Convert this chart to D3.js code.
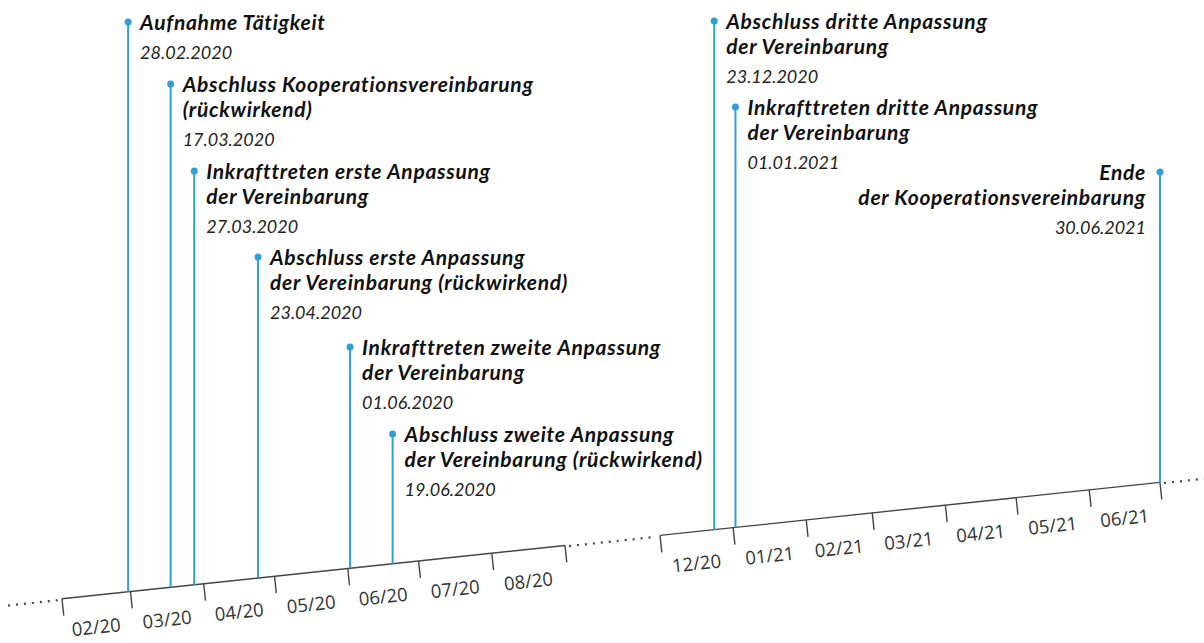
<!DOCTYPE html>
<html>
<head>
<meta charset="utf-8">
<script src="https://cdn.jsdelivr.net/npm/d3@7"></script>
<style>
  html, body { margin: 0; padding: 0; background: #fff; }
  svg { display: block; }
</style>
</head>
<body>
<svg id="chart" width="1204" height="643"></svg>
<script>
// events on the timeline
const eventDates = ["2020-02-28", "2020-03-17", "2020-03-27", "2020-04-23", "2020-06-01",
                    "2020-06-19", "2020-12-23", "2021-01-01", "2021-06-30"];
const eventLabels = ["28.02.2020", "17.03.2020", "27.03.2020", "23.04.2020", "01.06.2020",
                     "19.06.2020", "23.12.2020", "01.01.2021", "30.06.2021"];
const eventTitles = [
  ["Aufnahme Tätigkeit"],
  ["Abschluss Kooperationsvereinbarung", "(rückwirkend)"],
  ["Inkrafttreten erste Anpassung", "der Vereinbarung"],
  ["Abschluss erste Anpassung", "der Vereinbarung (rückwirkend)"],
  ["Inkrafttreten zweite Anpassung", "der Vereinbarung"],
  ["Abschluss zweite Anpassung", "der Vereinbarung (rückwirkend)"],
  ["Abschluss dritte Anpassung", "der Vereinbarung"],
  ["Inkrafttreten dritte Anpassung", "der Vereinbarung"],
  ["Ende", "der Kooperationsvereinbarung"]
];

// months shown on the axis (two visible stretches)
const monthStarts = ["2020-02-01", "2020-03-01", "2020-04-01", "2020-05-01", "2020-06-01", "2020-07-01", "2020-08-01",
                     "2020-12-01", "2021-01-01", "2021-02-01", "2021-03-01", "2021-04-01", "2021-05-01", "2021-06-01"];
const monthLabels = ["02/20", "03/20", "04/20", "05/20", "06/20", "07/20", "08/20",
                     "12/20", "01/21", "02/21", "03/21", "04/21", "05/21", "06/21"];
const segments = [["2020-02-01", "2020-09-01"], ["2020-12-01", "2021-07-01"]];

// layout
const stemTop = [22, 84, 171, 257, 347, 434, 21, 107, 172];
const BLUE = "#2f9fd7";
const AXIS = "#444";

const parse = d3.utcParse("%Y-%m-%d");

const x = d3.scaleUtc()
  .domain([parse("2020-02-01"), parse("2020-09-01"), parse("2020-12-01"), parse("2021-07-01")])
  .range([62, 565, 660, 1160]);

// the axis is a tilted line
const slope = 0.106;
const angle = Math.atan(slope) * 180 / Math.PI;
const ay = px => 599 - slope * (px - 60);
const nx = Math.sin(Math.atan(slope)), ny = Math.cos(Math.atan(slope));

const svg = d3.select("#chart");

// dotted continuations
const dotted = [[8, 58], [569, 656], [1164, 1204]];
svg.selectAll("line.dots").data(dotted).enter().append("line")
  .attr("class", "dots")
  .attr("x1", d => d[0]).attr("y1", d => ay(d[0]) + 1)
  .attr("x2", d => d[1]).attr("y2", d => ay(d[1]) + 1)
  .attr("stroke", AXIS).attr("stroke-width", 2.2)
  .attr("stroke-dasharray", "2 6");

// axis segments
svg.selectAll("line.seg").data(segments).enter().append("line")
  .attr("class", "seg")
  .attr("x1", d => x(parse(d[0]))).attr("y1", d => ay(x(parse(d[0]))))
  .attr("x2", d => x(parse(d[1]))).attr("y2", d => ay(x(parse(d[1]))))
  .attr("stroke", AXIS).attr("stroke-width", 1.4);

// ticks (month boundaries)
const tickDates = [];
segments.forEach(s => {
  d3.utcMonth.range(parse(s[0]), d3.utcMonth.offset(parse(s[1]), 1)).forEach(d => tickDates.push(d));
});
const tickLen = 17;
svg.selectAll("line.tick").data(tickDates).enter().append("line")
  .attr("class", "tick")
  .attr("x1", d => x(d)).attr("y1", d => ay(x(d)))
  .attr("x2", d => x(d) + nx * tickLen).attr("y2", d => ay(x(d)) + ny * tickLen)
  .attr("stroke", AXIS).attr("stroke-width", 1.4);

// month labels centred in each month
svg.selectAll("text.month").data(monthStarts).enter().append("text")
  .attr("class", "month")
  .attr("transform", d => {
    const a = parse(d), b = d3.utcMonth.offset(a, 1);
    const mx = (x(a) + x(b)) / 2;
    return `translate(${mx},${ay(mx) + 32}) rotate(${-angle})`;
  })
  .attr("text-anchor", "middle")
  .attr("dy", "0.35em")
  .attr("font-family", "'Open Sans', sans-serif")
  .attr("font-size", 18.5)
  .attr("fill", "#333")
  .text((d, i) => monthLabels[i]);

// event stems (placed at the end of the event day)
const ev = eventDates.map((d, i) => ({
  x: x(d3.utcDay.offset(parse(d), 1)), top: stemTop[i], title: eventTitles[i], date: eventLabels[i],
  right: i === eventDates.length - 1
}));

svg.selectAll("line.stem").data(ev).enter().append("line")
  .attr("class", "stem")
  .attr("x1", d => d.x).attr("x2", d => d.x)
  .attr("y1", d => d.top).attr("y2", d => ay(d.x))
  .attr("stroke", BLUE).attr("stroke-width", 2);

svg.selectAll("circle.dot").data(ev).enter().append("circle")
  .attr("class", "dot")
  .attr("cx", d => d.x).attr("cy", d => d.top).attr("r", 3.5)
  .attr("fill", BLUE);

// event text
const g = svg.selectAll("g.ev").data(ev).enter().append("g")
  .attr("class", "ev")
  .attr("transform", d => `translate(${d.right ? d.x - 14 : d.x + 12},${d.top + 8})`)
  .attr("text-anchor", d => d.right ? "end" : "start");

g.each(function(d) {
  const el = d3.select(this);
  d.title.forEach((t, k) => {
    el.append("text")
      .attr("y", k * 25)
      .attr("font-family", "Lato, sans-serif")
      .attr("font-weight", 700)
      .attr("font-style", "italic")
      .attr("font-size", 21)
      .attr("letter-spacing", 0.7)
      .attr("fill", "#111")
      .text(t);
  });
  el.append("text")
    .attr("y", (d.title.length - 1) * 25 + 29)
    .attr("font-family", "Lato, sans-serif")
    .attr("font-style", "italic")
    .attr("font-size", 18)
    .attr("fill", "#222")
    .text(d.date);
});
</script>
</body>
</html>
